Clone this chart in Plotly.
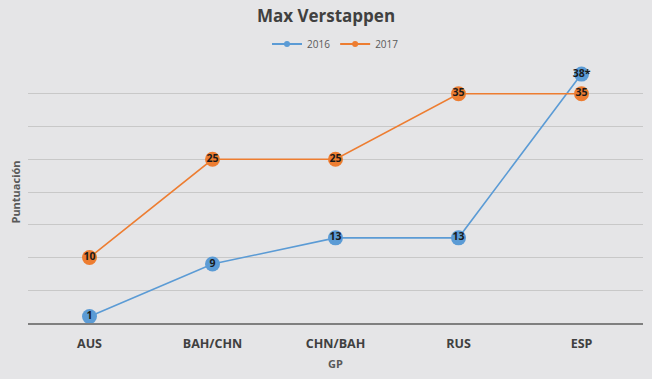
import plotly.graph_objects as go

categories = ["AUS", "BAH/CHN", "CHN/BAH", "RUS", "ESP"]
points_2016 = [1, 9, 13, 13, 38]
labels_2016 = ["1", "9", "13", "13", "38*"]
points_2017 = [10, 25, 25, 35, 35]
labels_2017 = ["10", "25", "25", "35", "35"]

BLUE = "#5b9bd5"
ORANGE = "#ed7d31"
FONT = "Open Sans"

fig = go.Figure()
for name, vals, labs, col in [("2016", points_2016, labels_2016, BLUE),
                              ("2017", points_2017, labels_2017, ORANGE)]:
    fig.add_trace(go.Scatter(
        x=categories, y=vals, name=name, mode="lines+markers+text",
        text=labs, textposition="middle center", showlegend=False,
        textfont=dict(family=FONT, size=10.5, color="#1a1a1a", weight="bold"),
        line=dict(color=col, width=1.6),
        marker=dict(color=col, size=15, line=dict(width=0)),
    ))
    # small legend entry
    fig.add_trace(go.Scatter(
        x=[None], y=[None], name=name, mode="lines+markers",
        line=dict(color=col, width=2), marker=dict(color=col, size=6),
    ))

fig.update_layout(
    width=652, height=379,
    paper_bgcolor="#e5e5e7", plot_bgcolor="rgba(0,0,0,0)",
    margin=dict(l=28, r=9, t=61, b=56, autoexpand=False),
    title=dict(text="Max Verstappen", x=0.5, xanchor="center", y=0.958, yanchor="middle",
               font=dict(family=FONT, size=17, color="#404040", weight="bold")),
    legend=dict(orientation="h", x=0.5, xanchor="center", y=0.884, yref="container",
                yanchor="middle", font=dict(family=FONT, size=10, color="#595959"),
                bgcolor="rgba(0,0,0,0)", traceorder="normal", itemwidth=30,
                tracegroupgap=0),
    showlegend=True,
    xaxis=dict(type="category", range=[-0.5, 4.5], showgrid=False, showline=True,
               linecolor="#7f7f7f", linewidth=1.5, ticks="", zeroline=False, automargin=False,
               ticklabelstandoff=8,
               tickfont=dict(family=FONT, size=12.5, color="#404040", weight="bold"),
               title=dict(text="GP", font=dict(family=FONT, size=11, color="#595959", weight="bold"),
                          standoff=10)),
    yaxis=dict(range=[0, 40], dtick=5, showgrid=True, gridcolor="#c8c8c8", gridwidth=1,
               showticklabels=False, zeroline=False, showline=False, automargin=False,
               title=dict(text="Puntuación", font=dict(family=FONT, size=11, color="#595959", weight="bold"),
                          standoff=4)),
)

fig.write_html("out.html", config={"displayModeBar": False},
               post_script="document.body.style.margin='0';document.body.style.padding='0';")
